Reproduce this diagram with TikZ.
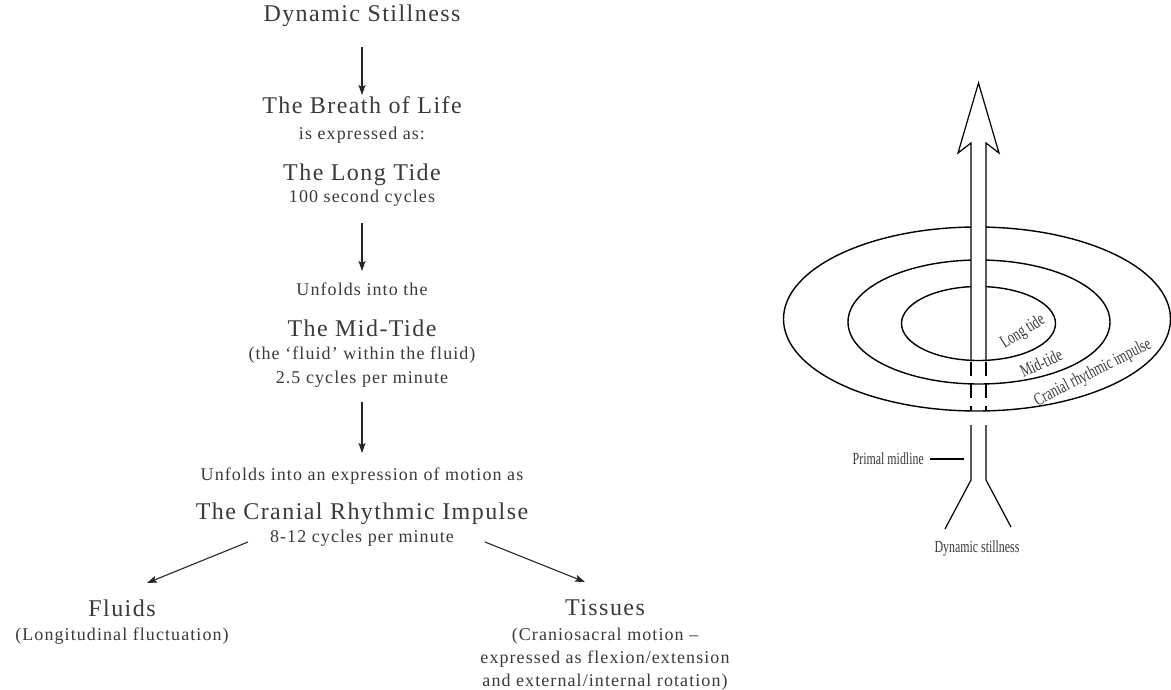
\documentclass[tikz,border=0pt]{standalone}
\usepackage{fontspec}
\setmainfont{Liberation Serif}[LetterSpace=6]
\newfontfamily\narrowserif{Liberation Serif}[FakeStretch=0.7]
\usepackage{xcolor}
\usetikzlibrary{arrows.meta, positioning}

\definecolor{inkgrey}{HTML}{3A3A3A}

\tikzset{
    head/.style={text=inkgrey, font=\fontsize{24}{28}\selectfont, text height=16pt, text depth=5pt, inner sep=0pt},
    sub/.style={text=inkgrey, font=\fontsize{18}{23}\selectfont, text height=12pt, text depth=4pt, inner sep=0pt},
    subblock/.style={text=inkgrey, font=\fontsize{18}{23}\selectfont, align=center, inner sep=0pt},
    flow/.style={-{Stealth[length=10pt, width=7pt, inset=2pt]}, line width=1.1pt, draw=black!85},
    tag/.style={text=inkgrey, font=\narrowserif\fontsize{17}{20}\selectfont, inner sep=0pt},
    ringtag/.style={text=inkgrey, font=\narrowserif\fontsize{18}{20}\selectfont, inner sep=0pt},
    ring/.style={line width=1.4pt},
    shaft/.style={line width=1.2pt}
}

\begin{document}
\begin{tikzpicture}[x=1pt, y=-1pt]
    \fill[white] (0, 0) rectangle (1171, 690);
    \useasboundingbox (0, 0) rectangle (1171, 690);

    \node[head] (ds) at (362, 16) {Dynamic Stillness};
    \node[head] (bol) at (362, 108) {The Breath of Life};
    \node[sub] (expr) at (362, 136) {is expressed as:};
    \node[head] (lt) at (362, 175) {The Long Tide};
    \node[sub] (ltcyc) at (362, 199) {100 second cycles};
    \node[sub] (unf) at (362, 291) {Unfolds into the};
    \node[head] (mt) at (362, 331) {The Mid-Tide};
    \node[sub] (fwf) at (362, 355) {(the `fluid' within the fluid)};
    \node[sub] (mtcyc) at (362, 379) {2.5 cycles per minute};
    \node[sub] (unfm) at (362, 476) {Unfolds into an expression of motion as};
    \node[head] (cri) at (362, 514) {The Cranial Rhythmic Impulse};
    \node[sub] (cricyc) at (362, 538) {8-12 cycles per minute};
    \node[head] (fl) at (122, 611) {Fluids};
    \node[sub] (fldesc) at (122, 636) {(Longitudinal fluctuation)};
    \node[head] (ts) at (605, 610) {Tissues};
    \node[subblock] (tsdesc) at (605, 659) {(Craniosacral motion –\\expressed as flexion/extension\\and external/internal rotation)};

    \coordinate (cri-l) at (248, 542);
    \coordinate (fl-t) at (147, 583);
    \coordinate (cri-r) at (485, 542);
    \coordinate (ts-t) at (585, 582);

    \draw[flow, shorten <=31pt, shorten >=13pt] (ds.center) -- (bol.center);
    \draw[flow, shorten <=24pt, shorten >=20pt] (ltcyc.center) -- (unf.center);
    \draw[flow, shorten <=23pt, shorten >=23pt] (mtcyc.center) -- (unfm.center);
    \draw[flow] (cri-l) -- (fl-t);
    \draw[flow] (cri-r) -- (ts-t);

    \draw[ring] (977, 319) ellipse [x radius=193.5pt, y radius=92pt];
    \draw[ring] (979, 322) ellipse [x radius=131pt, y radius=62pt];
    \draw[ring] (978.5, 323.5) ellipse [x radius=77pt, y radius=37pt];
    \fill[white] (971, 140) rectangle (986, 355);

    \draw[shaft, line join=miter] (971, 361) -- (971, 143) -- (958, 153) -- (978.5, 83) -- (999, 153) -- (986, 143) -- (986, 361);
    \draw[shaft, dash pattern=on 14pt off 8pt] (971, 362) -- (971, 411) (986, 362) -- (986, 411);
    \draw[shaft] (945, 529) -- (971, 480) -- (971, 425) (986, 425) -- (986, 480) -- (1011, 527);

    \node[ringtag, rotate=32] (ltlab) at (1023, 332) {Long tide};
    \node[ringtag, rotate=25] (mtlab) at (1041, 363) {Mid-tide};
    \node[ringtag, rotate=27] (crilab) at (1093, 373) {Cranial rhythmic impulse};
    \node[tag, anchor=east] (pm) at (924, 459) {Primal midline};
    \coordinate (pm-end) at (964, 459);
    \draw[shaft, shorten <=6pt] (pm.east) -- (pm-end);
    \node[tag] (dsl) at (977, 548) {Dynamic stillness};
\end{tikzpicture}
\end{document}
